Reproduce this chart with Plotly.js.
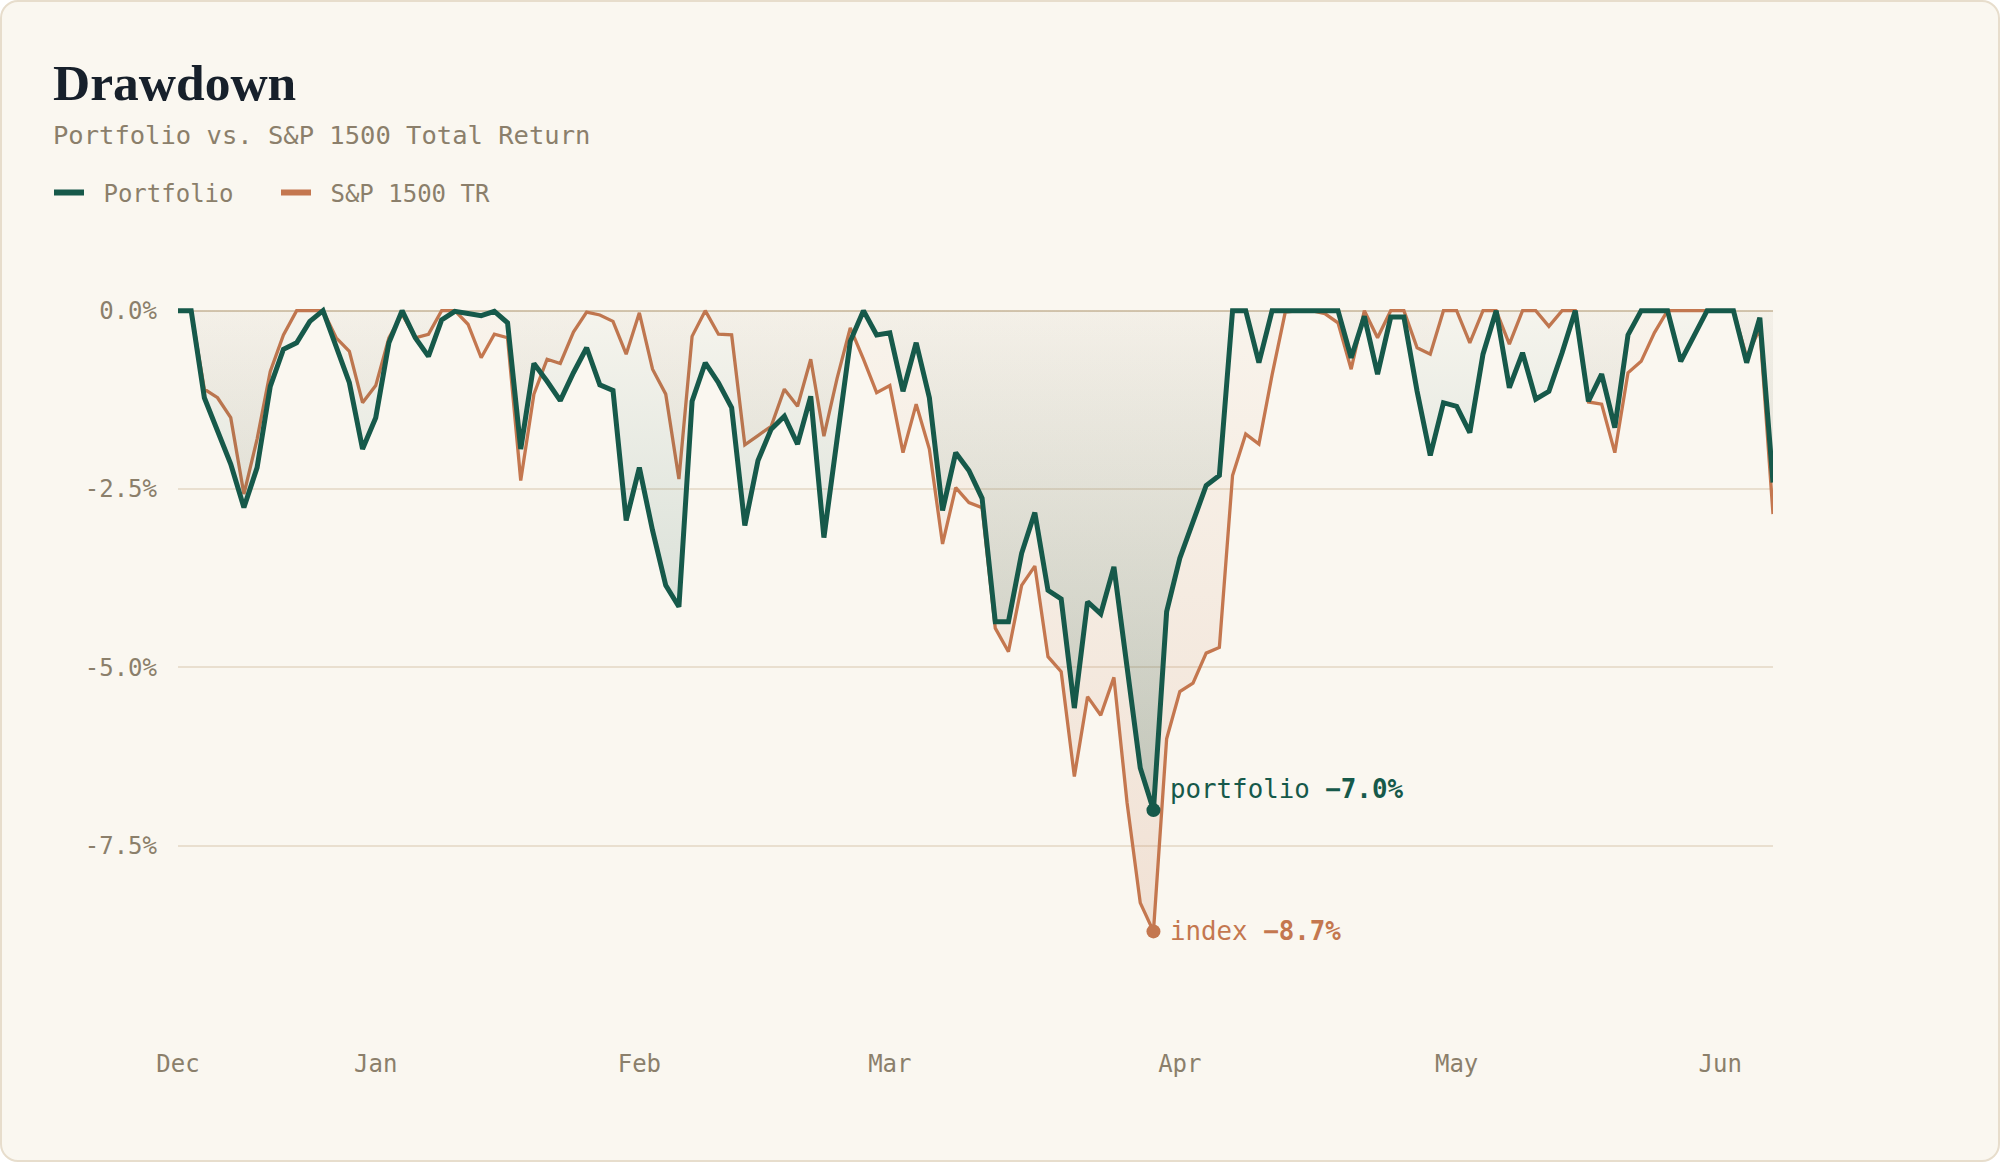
<!DOCTYPE html>
<html>
<head>
<meta charset="utf-8">
<script src="https://cdn.plot.ly/plotly-3.0.1.min.js"></script>
<style>
  html, body { margin: 0; padding: 0; background: #ffffff; }
  #card { position: absolute; left: 0; top: 0; width: 1996px; height: 1158px;
          border: 2px solid #e7ddcc; border-radius: 18px; background: #faf7f0; }
  #chart { position: absolute; left: 0; top: 0; width: 2000px; height: 1162px; }
</style>
</head>
<body>
<div id="card"></div>
<div id="chart"></div>
<script>
// drawdown in %, one value per trading day (Dec .. early Jun)
const portfolio = [
  0, 0, -1.22, -1.69, -2.15, -2.76, -2.2, -1.06, -0.54, -0.45,
  -0.15, 0, -0.52, -1.01, -1.94, -1.5, -0.45, 0, -0.38, -0.64,
  -0.13, -0.01, -0.04, -0.07, -0.01, -0.17, -1.94, -0.74, -0.99, -1.26,
  -0.87, -0.52, -1.04, -1.12, -2.94, -2.2, -3.08, -3.85, -4.15, -1.27,
  -0.73, -1.01, -1.36, -3.01, -2.1, -1.66, -1.48, -1.87, -1.2, -3.18,
  -1.8, -0.43, 0, -0.34, -0.31, -1.13, -0.45, -1.22, -2.8, -1.99,
  -2.24, -2.63, -4.36, -4.36, -3.4, -2.83, -3.92, -4.04, -5.57, -4.08,
  -4.25, -3.59, -5.0, -6.41, -7.0, -4.22, -3.47, -2.94, -2.45, -2.31,
  0, 0, -0.73, 0, 0, 0, 0, 0, 0, -0.66,
  -0.08, -0.89, -0.09, -0.09, -1.13, -2.03, -1.29, -1.34, -1.71, -0.61,
  0, -1.08, -0.59, -1.24, -1.13, -0.59, 0, -1.27, -0.89, -1.64,
  -0.34, 0, 0, 0, -0.71, -0.34, 0, 0, 0, -0.73,
  -0.1, -2.41
];
const sp1500 = [
  0, 0, -1.1, -1.22, -1.5, -2.57, -1.8, -0.85, -0.34, 0,
  0, 0, -0.38, -0.57, -1.29, -1.05, -0.38, -0.05, -0.38, -0.33,
  0, 0, -0.19, -0.66, -0.33, -0.38, -2.38, -1.17, -0.68, -0.74,
  -0.3, -0.02, -0.06, -0.15, -0.61, -0.03, -0.82, -1.17, -2.36, -0.36,
  0, -0.33, -0.34, -1.88, -1.75, -1.62, -1.1, -1.34, -0.68, -1.76,
  -0.95, -0.24, -0.68, -1.15, -1.05, -1.99, -1.31, -1.94, -3.27, -2.48,
  -2.69, -2.76, -4.45, -4.78, -3.85, -3.58, -4.85, -5.06, -6.53, -5.41,
  -5.67, -5.14, -6.9, -8.3, -8.7, -6.0, -5.34, -5.22, -4.8, -4.72,
  -2.31, -1.73, -1.87, -0.9, -0.02, 0, 0, -0.04, -0.17, -0.82,
  0, -0.38, 0, 0, -0.52, -0.61, 0, 0, -0.45, 0,
  0, -0.47, 0, 0, -0.22, 0, 0, -1.28, -1.31, -1.99,
  -0.87, -0.71, -0.31, 0, 0, 0, 0, 0, 0, -0.65,
  -0.25, -2.85
];
const monthIdx = [0, 15, 35, 54, 76, 97, 117];
const monthLabels = ['Dec', 'Jan', 'Feb', 'Mar', 'Apr', 'May', 'Jun'];
const yTicks = [0, -2.5, -5, -7.5];
const yLabels = ['0.0%', '-2.5%', '-5.0%', '-7.5%'];

const GREEN = '#16594a';
const ORANGE = '#c4774f';
const MUTED = '#8b7f6b';
const MONO = 'DejaVu Sans Mono';

let days = portfolio.map((v, i) => i);

let portMin = Math.min(...portfolio);
let portAt = portfolio.indexOf(portMin);
let spMin = Math.min(...sp1500);
let spAt = sp1500.indexOf(spMin);

function pct(v) { return '\u2212' + Math.abs(v).toFixed(1) + '%'; }

let traceIndex = {
  x: days, y: sp1500, name: 'S&P 1500 TR', showlegend: false,
  mode: 'lines', line: {color: ORANGE, width: 3.3},
  fill: 'tozeroy',
  fillgradient: {type: 'vertical', start: spMin, stop: 0,
    colorscale: [[0, 'rgba(196,119,79,0.17)'], [1, 'rgba(196,119,79,0.03)']]},
  hoverinfo: 'skip'
};

let tracePort = {
  x: days, y: portfolio, name: 'Portfolio', showlegend: false,
  mode: 'lines', line: {color: GREEN, width: 5},
  fill: 'tozeroy',
  fillgradient: {type: 'vertical', start: portMin, stop: 0,
    colorscale: [[0, 'rgba(22,89,74,0.22)'], [1, 'rgba(22,89,74,0.02)']]},
  hoverinfo: 'skip'
};

// legend-only entries, so the legend swatches can be drawn thicker
let keyPort = {x: [null], y: [null], name: '\u00a0Portfolio', mode: 'lines',
  line: {color: GREEN, width: 6}, legendrank: 1, hoverinfo: 'skip'};
let keyIndex = {x: [null], y: [null], name: '\u00a0S&P 1500 TR', mode: 'lines',
  line: {color: ORANGE, width: 6}, legendrank: 2, hoverinfo: 'skip'};

let dots = {
  x: [portAt, spAt], y: [portMin, spMin], mode: 'markers',
  marker: {color: [GREEN, ORANGE], size: 14},
  showlegend: false, hoverinfo: 'skip'
};

let layout = {
  width: 2000, height: 1162,
  paper_bgcolor: 'rgba(0,0,0,0)', plot_bgcolor: 'rgba(0,0,0,0)',
  margin: {l: 178, r: 227, t: 275, b: 145},
  hovermode: false,
  title: {
    text: 'Drawdown', xref: 'container', x: 53 / 2000, xanchor: 'left',
    yref: 'container', y: 1 - 82 / 1162, yanchor: 'middle',
    font: {family: 'Liberation Serif', size: 51.5, color: '#17202b', weight: 'bold'}
  },
  legend: {
    orientation: 'h', xref: 'container', x: 49 / 2000, xanchor: 'left',
    yref: 'container', y: 1 - 193 / 1162, yanchor: 'middle',
    font: {family: MONO, size: 24, color: MUTED},
    itemwidth: 30, entrywidth: 182, bgcolor: 'rgba(0,0,0,0)'
  },
  xaxis: {
    range: [0, portfolio.length - 1], showgrid: false, zeroline: false, showline: false,
    tickmode: 'array', tickvals: monthIdx, ticktext: monthLabels, ticks: '',
    ticklabelstandoff: 30,
    tickfont: {family: MONO, size: 24, color: MUTED}
  },
  yaxis: {
    range: [-9.9, 0.5], tickmode: 'array', tickvals: yTicks, ticktext: yLabels,
    showgrid: true, gridcolor: '#e9dfcf', gridwidth: 2,
    zeroline: true, zerolinecolor: '#d4c6af', zerolinewidth: 2,
    showline: false, ticks: '', ticklabelstandoff: 20,
    tickfont: {family: MONO, size: 24, color: MUTED}
  },
  annotations: [
    {
      xref: 'paper', yref: 'paper', x: (51 - 178) / 1595, y: (1017 - 135) / 742,
      xanchor: 'left', yanchor: 'middle', showarrow: false,
      text: 'Portfolio vs. S&amp;P 1500 Total Return',
      font: {family: MONO, size: 25.5, color: MUTED}
    },
    {
      x: portAt, y: portMin, xanchor: 'left', yanchor: 'middle', showarrow: false,
      xshift: 15, yshift: 21,
      text: 'portfolio <b>' + pct(portMin) + '</b>',
      font: {family: MONO, size: 25.8, color: GREEN}
    },
    {
      x: spAt, y: spMin, xanchor: 'left', yanchor: 'middle', showarrow: false,
      xshift: 15, yshift: 0,
      text: 'index <b>' + pct(spMin) + '</b>',
      font: {family: MONO, size: 25.8, color: ORANGE}
    }
  ]
};

Plotly.newPlot('chart', [traceIndex, tracePort, dots, keyPort, keyIndex], layout,
  {displayModeBar: false, staticPlot: true});
</script>
</body>
</html>
